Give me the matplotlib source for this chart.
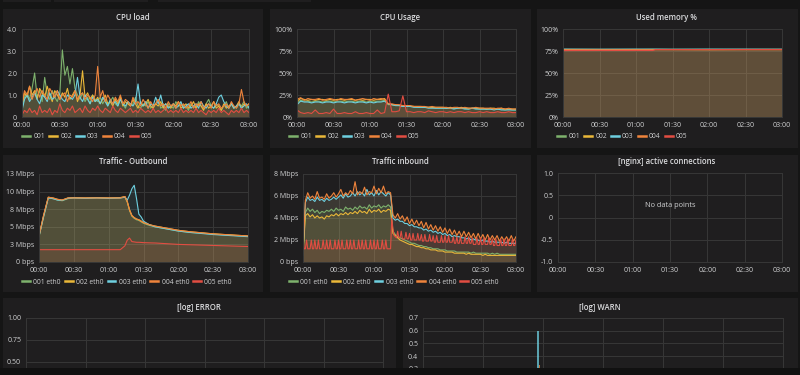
import matplotlib.pyplot as plt
from matplotlib.patches import Rectangle
from matplotlib.lines import Line2D

# ---- data ----
hosts = ['001', '002', '003', '004', '005']
nics = ['001 eth0', '002 eth0', '003 eth0', '004 eth0', '005 eth0']
colors = ['#7EB26D', '#EAB839', '#6ED0E0', '#EF843C', '#E24D42']
time_ticks = [0, 30, 60, 90, 120, 150, 180]
time_labels = ['00:00', '00:30', '01:00', '01:30', '02:00', '02:30', '03:00']

# CPU load, one sample every 2 minutes
load_t = list(range(0, 181, 2))
load_001 = [0.4, 0.9, 1.1, 0.8, 1.3, 2.0, 0.9, 1.2, 0.7, 1.8, 1.0, 0.8, 1.2, 0.9, 0.7, 1.1, 3.05, 1.9, 2.3, 1.5, 2.2, 1.3, 1.0, 0.8, 1.1, 0.7, 0.9, 0.6, 1.0, 0.8,
            0.7, 0.9, 0.6, 0.8, 0.5, 0.7, 0.9, 0.6, 0.5, 0.8, 0.6, 0.4, 0.7, 0.5, 0.6, 0.9, 0.5, 0.4, 0.6, 0.5, 0.7, 0.4, 0.5, 0.6, 0.8, 0.4, 0.5, 0.3, 0.6, 0.5,
            0.4, 0.7, 0.5, 0.6, 0.4, 0.5, 0.3, 0.6, 0.5, 0.4, 0.7, 0.5, 0.4, 0.6, 0.8, 0.5, 0.4, 0.6, 0.5, 0.3, 0.5, 0.7, 0.4, 0.6, 0.5, 0.4, 0.6, 0.5, 0.7, 0.4, 0.5]
load_002 = [0.5, 1.1, 0.9, 1.4, 1.0, 1.2, 0.8, 1.3, 1.1, 0.9, 1.4, 1.0, 0.7, 1.2, 1.0, 0.8, 1.1, 0.9, 1.3, 0.8, 1.0, 1.2, 0.7, 1.0, 2.1, 0.9, 1.1, 0.8, 1.0, 0.7,
            0.9, 0.6, 0.8, 1.0, 0.6, 0.7, 0.5, 0.8, 0.6, 0.9, 0.5, 0.7, 0.6, 0.5, 0.8, 0.6, 0.4, 0.7, 0.5, 0.6, 0.8, 0.5, 0.4, 0.6, 0.5, 0.7, 0.4, 0.6, 0.5, 0.4,
            0.6, 0.5, 0.7, 0.4, 0.5, 0.6, 0.4, 0.5, 0.7, 0.4, 0.6, 0.5, 0.3, 0.6, 0.4, 0.5, 0.7, 0.4, 0.5, 0.3, 0.6, 0.4, 0.5, 0.6, 0.4, 0.5, 0.7, 0.4, 0.6, 0.5, 0.6]
load_003 = [0.3, 0.8, 1.0, 0.7, 0.9, 1.1, 0.8, 0.6, 1.0, 0.9, 0.7, 1.1, 0.8, 0.9, 1.2, 1.0, 0.8, 0.7, 1.0, 0.9, 0.8, 1.0, 1.8, 0.9, 0.7, 1.0, 0.8, 0.6, 0.9, 0.7,
            0.8, 0.6, 0.9, 0.7, 0.5, 0.8, 0.6, 0.7, 0.5, 0.8, 0.6, 0.5, 0.7, 0.6, 0.5, 0.7, 1.5, 0.6, 0.5, 0.7, 0.4, 0.6, 0.5, 0.9, 0.6, 1.0, 0.5, 0.6, 0.4, 0.5,
            0.6, 0.4, 0.5, 0.7, 0.4, 0.5, 0.6, 0.4, 0.5, 0.6, 0.4, 0.7, 0.5, 0.4, 0.6, 0.5, 0.4, 0.6, 0.9, 1.0, 0.7, 0.5, 0.4, 0.6, 0.4, 0.5, 0.6, 0.4, 0.5, 0.6, 0.4]
load_004 = [0.6, 1.2, 1.0, 1.4, 0.8, 1.1, 1.3, 0.9, 1.2, 1.0, 0.8, 1.3, 1.1, 0.9, 1.2, 0.8, 1.0, 1.1, 0.7, 1.0, 0.9, 1.2, 0.8, 1.0, 1.1, 0.8, 1.0, 0.9, 0.7, 1.0,
            2.3, 0.9, 1.2, 0.7, 1.0, 0.8, 0.6, 0.9, 0.7, 1.0, 0.6, 0.8, 0.7, 0.5, 0.9, 0.6, 0.7, 0.5, 0.8, 0.6, 0.4, 0.7, 0.5, 0.6, 0.8, 0.5, 0.6, 0.4, 0.7, 0.5,
            0.6, 0.4, 0.7, 0.5, 0.6, 0.4, 0.5, 0.7, 0.4, 0.6, 0.5, 0.7, 0.4, 0.5, 0.6, 0.4, 0.7, 0.5, 0.6, 0.4, 0.5, 0.6, 0.4, 0.7, 0.5, 0.4, 0.6, 1.25, 0.7, 0.5, 0.6]
load_005 = [0.1, 0.3, 0.2, 0.4, 0.2, 0.3, 0.1, 0.5, 0.2, 0.3, 0.2, 0.4, 0.1, 0.3, 0.2, 0.6, 0.3, 0.2, 0.4, 0.3, 0.5, 0.2, 0.3, 0.4, 0.2, 0.5, 0.3, 0.2, 0.4, 0.3,
            0.5, 0.3, 0.2, 0.4, 0.3, 0.2, 0.5, 0.3, 0.2, 0.4, 0.3, 0.2, 0.3, 0.4, 0.2, 0.3, 0.2, 0.4, 0.3, 0.2, 0.3, 0.2, 0.4, 0.2, 0.3, 0.2, 0.3, 0.4, 0.2, 0.3,
            0.2, 0.3, 0.2, 0.4, 0.2, 0.3, 0.2, 0.3, 0.2, 0.4, 0.2, 0.3, 0.2, 0.1, 0.3, 0.2, 0.3, 0.2, 0.4, 0.2, 0.3, 0.2, 0.1, 0.3, 0.2, 0.3, 0.2, 0.4, 0.2, 0.3, 0.2]
load_yticks = [0, 1, 2, 3, 4]
load_ylabels = ['0', '1.0', '2.0', '3.0', '4.0']

# CPU usage %, every 3 minutes
usage_t = list(range(0, 181, 3))
usage_001 = [16, 19, 18, 18, 17, 18, 18, 17, 18, 18, 17, 18, 18, 17, 18, 18, 17, 18, 18, 17, 18, 17, 18, 18, 19, 14, 14, 13, 13, 12,
             12, 12, 12, 11, 11, 11, 11, 11, 10, 10, 10, 10, 10, 10, 10, 10, 10, 9, 10, 10, 9, 9, 9, 9, 9, 9, 9, 8, 9, 8, 8]
usage_002 = [18, 21, 20, 19, 20, 19, 20, 20, 19, 20, 19, 20, 20, 19, 20, 20, 19, 20, 19, 20, 20, 19, 20, 20, 21, 15, 14, 14, 13, 13,
             13, 12, 12, 12, 12, 11, 11, 11, 11, 11, 11, 10, 11, 10, 10, 11, 10, 10, 10, 10, 10, 10, 9, 10, 10, 9, 10, 9, 9, 9, 9]
usage_003 = [14, 18, 17, 17, 16, 17, 17, 16, 17, 17, 16, 17, 17, 16, 17, 17, 16, 17, 17, 16, 17, 16, 17, 17, 18, 15, 14, 13, 13, 12,
             12, 12, 11, 11, 11, 11, 10, 10, 10, 10, 10, 10, 10, 9, 10, 10, 9, 9, 10, 9, 9, 9, 9, 9, 8, 9, 8, 8, 8, 8, 8]
usage_004 = [20, 22, 19, 21, 20, 20, 21, 19, 20, 21, 20, 19, 21, 20, 20, 21, 19, 20, 21, 20, 19, 21, 20, 21, 20, 15, 15, 14, 14, 13,
             13, 13, 12, 12, 12, 12, 11, 12, 11, 11, 11, 11, 10, 11, 11, 10, 11, 10, 10, 11, 10, 10, 10, 10, 9, 10, 10, 9, 10, 9, 9]
usage_005 = [8, 5, 4, 5, 4, 8, 4, 4, 5, 4, 9, 4, 4, 5, 4, 4, 6, 4, 4, 5, 4, 4, 8, 4, 5, 26, 6, 6, 7, 24,
             6, 6, 5, 6, 6, 5, 7, 6, 5, 6, 6, 5, 6, 5, 6, 6, 5, 6, 5, 5, 6, 5, 6, 5, 5, 6, 5, 5, 6, 5, 5]
pct_yticks = [0, 25, 50, 75, 100]
pct_ylabels = ['0%', '25%', '50%', '75%', '100%']

# used memory %
mem_t = [0, 30, 60, 74, 76, 90, 120, 150, 180]
mem_001 = [76.9, 76.8, 76.9, 76.9, 76.9, 76.8, 76.9, 76.8, 76.9]
mem_002 = [76.7, 76.7, 76.6, 76.7, 76.7, 76.7, 76.6, 76.7, 76.7]
mem_003 = [77.1, 77.0, 77.1, 77.1, 77.1, 77.0, 77.1, 77.1, 77.0]
mem_004 = [76.5, 76.4, 76.5, 76.5, 76.5, 76.5, 76.4, 76.5, 76.5]
mem_005 = [75.5, 75.6, 75.6, 75.6, 76.6, 76.6, 76.6, 76.7, 76.7]

# traffic outbound, Mbps
out_t = [0, 4, 8, 12, 16, 20, 25, 30, 40, 50, 60, 70, 74, 76, 78, 80, 82, 84, 86, 88, 90, 95, 100, 110, 120, 130, 140, 150, 160, 170, 180]
out_001 = [3.6, 6.4, 9.1, 9.0, 8.8, 8.7, 9.0, 9.1, 9.05, 9.1, 9.05, 9.1, 9.2, 8.5, 7.3, 6.5, 6.2, 6.0, 5.9, 5.7, 5.5, 5.2, 5.0, 4.7, 4.4, 4.2, 4.1, 3.95, 3.85, 3.75, 3.65]
out_002 = [3.7, 6.6, 9.2, 9.1, 8.9, 8.8, 9.1, 9.15, 9.1, 9.15, 9.1, 9.15, 9.3, 8.6, 7.4, 6.6, 6.3, 6.1, 6.0, 5.8, 5.6, 5.3, 5.1, 4.8, 4.5, 4.3, 4.15, 4.0, 3.9, 3.8, 3.7]
out_003 = [3.6, 6.5, 9.1, 9.0, 8.8, 8.75, 9.05, 9.1, 9.05, 9.1, 9.05, 9.1, 9.2, 8.8, 9.5, 10.4, 10.9, 9.0, 6.8, 6.4, 5.8, 5.3, 5.0, 4.7, 4.4, 4.2, 4.05, 3.9, 3.8, 3.7, 3.6]
out_004 = [3.7, 6.7, 9.2, 9.1, 8.9, 8.8, 9.1, 9.1, 9.1, 9.1, 9.1, 9.1, 9.3, 8.6, 7.4, 6.6, 6.3, 6.1, 6.0, 5.8, 5.6, 5.3, 5.1, 4.8, 4.5, 4.3, 4.15, 4.0, 3.9, 3.8, 3.7]
out_005 = [1.75, 1.75, 1.75, 1.75, 1.75, 1.75, 1.75, 1.75, 1.75, 1.75, 1.75, 1.75, 2.3, 3.1, 3.4, 2.9, 2.85, 2.8, 2.8, 2.78, 2.75, 2.72, 2.7, 2.6, 2.5, 2.45, 2.4, 2.35, 2.3, 2.25, 2.2]
out_yticks = [0, 2.5, 5, 7.5, 10, 12.5]
out_ylabels = ['0 bps', '3 Mbps', '5 Mbps', '8 Mbps', '10 Mbps', '13 Mbps']

# traffic inbound, Mbps, every 2 minutes (005 every minute)
in_t = list(range(0, 181, 2))
in_001 = [0.7, 4.5, 4.9, 4.6, 4.8, 4.5, 4.7, 4.4, 4.6, 4.5, 4.7, 4.6, 4.8, 4.6, 4.9, 4.7, 4.8, 4.6, 5.0, 4.8, 4.9, 4.7, 5.0, 4.8, 5.1, 4.9, 5.0, 4.8, 5.2, 4.9, 5.1, 5.0, 5.2, 4.9, 5.1, 5.0, 5.2, 5.0,
          2.8, 2.5, 2.3, 2.2, 2.1, 2.0, 1.9, 1.8, 1.7, 1.7, 1.6, 1.5, 1.5, 1.4, 1.4, 1.3, 1.3, 1.2, 1.2, 1.2, 1.1, 1.1, 1.1, 1.0, 1.0, 1.0, 1.0, 0.9, 0.9, 0.9, 0.9, 0.9,
          0.9, 0.8, 0.9, 0.8, 0.8, 0.8, 0.8, 0.8, 0.8, 0.7, 0.8, 0.7, 0.8, 0.7, 0.7, 0.7, 0.7, 0.7, 0.7, 0.7, 0.7]
in_002 = [0.6, 4.2, 4.4, 4.1, 4.3, 4.0, 4.2, 4.0, 4.1, 3.9, 4.2, 4.1, 4.3, 4.2, 4.4, 4.2, 4.4, 4.3, 4.5, 4.3, 4.5, 4.4, 4.6, 4.4, 4.7, 4.5, 4.6, 4.4, 4.8, 4.5, 4.7, 4.6, 4.8, 4.5, 4.7, 4.6, 4.8, 4.7,
          2.6, 2.4, 2.2, 2.0, 1.9, 1.8, 1.7, 1.6, 1.6, 1.5, 1.4, 1.4, 1.3, 1.3, 1.2, 1.2, 1.1, 1.1, 1.1, 1.0, 1.0, 1.0, 0.9, 0.9, 0.9, 0.9, 0.8, 0.8, 0.8, 0.8, 0.8, 0.7,
          0.8, 0.7, 0.7, 0.7, 0.7, 0.7, 0.6, 0.7, 0.6, 0.6, 0.6, 0.6, 0.6, 0.6, 0.6, 0.6, 0.6, 0.6, 0.6, 0.6, 0.6]
in_003 = [0.8, 5.4, 5.9, 5.6, 5.7, 5.5, 5.9, 5.6, 5.7, 5.5, 5.8, 5.6, 5.7, 5.9, 5.7, 5.9, 6.1, 5.8, 6.2, 5.9, 6.0, 6.3, 6.0, 6.4, 6.1, 6.3, 6.0, 6.6, 6.1, 6.3, 6.0, 6.5, 6.1, 6.4, 6.2, 6.0, 6.3, 6.1,
          4.0, 3.8, 3.9, 3.7, 3.7, 3.5, 3.5, 3.3, 3.4, 3.2, 3.2, 3.1, 3.1, 2.9, 3.0, 2.8, 2.9, 2.7, 2.8, 2.6, 2.7, 2.5, 2.6, 2.4, 2.5, 2.3, 2.4, 2.3, 2.3, 2.2, 2.2, 2.1,
          2.2, 2.0, 2.1, 2.0, 2.0, 1.9, 2.0, 1.9, 1.9, 1.8, 1.9, 1.8, 1.8, 1.8, 1.8, 1.7, 1.8, 1.7, 1.7, 1.7, 1.7]
in_004 = [0.8, 5.6, 6.3, 5.8, 6.0, 5.7, 6.4, 5.8, 5.9, 5.7, 6.2, 5.8, 6.0, 6.3, 5.9, 6.2, 6.6, 6.0, 6.3, 6.1, 6.5, 6.2, 7.3, 6.1, 6.4, 6.2, 6.8, 6.1, 6.4, 6.3, 6.9, 6.2, 6.7, 6.3, 6.9, 6.2, 6.4, 6.3,
          4.3, 4.0, 4.4, 3.9, 4.2, 3.7, 4.1, 3.5, 3.9, 3.4, 3.8, 3.3, 3.7, 3.1, 3.6, 3.0, 3.4, 2.9, 3.3, 2.8, 3.2, 2.7, 3.1, 2.6, 3.0, 2.5, 2.9, 2.4, 2.8, 2.3, 2.8, 2.3,
          2.7, 2.2, 2.6, 2.1, 2.6, 2.1, 2.5, 2.0, 2.5, 2.0, 2.4, 2.0, 2.4, 1.9, 2.3, 1.9, 2.3, 1.9, 2.4, 1.9, 2.3]
in5_t = list(range(0, 181))
in_005 = [2.0, 1.2, 1.2, 2.0, 1.2, 1.2, 1.2, 2.0, 1.2, 1.2,
          2.0, 1.2, 1.2, 2.0, 1.2, 1.2, 1.2, 2.0, 1.2, 1.2,
          2.0, 1.2, 1.2, 2.0, 1.2, 1.2, 1.2, 2.0, 1.2, 1.2,
          2.0, 1.2, 1.2, 2.0, 1.2, 1.2, 1.2, 2.0, 1.2, 1.2,
          2.0, 1.2, 1.2, 2.0, 1.2, 1.2, 1.2, 2.0, 1.2, 1.2,
          2.0, 1.2, 1.2, 2.0, 1.2, 1.2, 1.2, 2.0, 1.2, 1.2,
          2.0, 1.2, 1.2, 2.0, 1.2, 1.2, 1.2, 2.0, 1.2, 1.2,
          2.0, 1.2, 1.2, 1.2, 1.2, 4.0, 3.0, 2.4, 2.3, 2.2,
          2.8, 2.2, 2.2, 2.8, 2.1, 2.1, 2.1, 2.7, 2.1, 2.1,
          2.6, 2.0, 2.0, 2.6, 2.0, 2.0, 2.0, 2.6, 2.0, 2.0,
          2.5, 1.9, 1.9, 2.5, 1.9, 1.9, 1.9, 2.5, 1.9, 1.9,
          2.4, 1.8, 1.8, 2.4, 1.8, 1.8, 1.8, 2.4, 1.8, 1.8,
          2.4, 1.8, 1.8, 2.4, 1.8, 1.8, 1.8, 2.3, 1.7, 1.7,
          2.3, 1.7, 1.7, 2.3, 1.7, 1.7, 1.7, 2.3, 1.7, 1.7,
          2.3, 1.7, 1.7, 2.2, 1.6, 1.6, 1.6, 2.2, 1.6, 1.6,
          2.2, 1.6, 1.6, 2.2, 1.6, 1.6, 1.6, 2.2, 1.6, 1.6,
          2.1, 1.5, 1.5, 2.1, 1.5, 1.5, 1.5, 2.1, 1.5, 1.5,
          2.1, 1.5, 1.5, 2.1, 1.5, 1.5, 1.5, 2.1, 1.5, 1.5,
          2.0]
in_yticks = [0, 2, 4, 6, 8]
in_ylabels = ['0 bps', '2 Mbps', '4 Mbps', '6 Mbps', '8 Mbps']

nginx_yticks = [-1, -0.5, 0, 0.5, 1]
nginx_ylabels = ['-1.0', '-0.5', '0', '0.5', '1.0']

# only the upper part of the last row is on screen
error_yticks = [0.5, 0.75, 1]
error_ylabels = ['0.50', '0.75', '1.00']

warn_t = [57.5]
warn_003 = [0.6]
warn_004 = [0.33]
warn_yticks = [0.3, 0.4, 0.5, 0.6, 0.7]
warn_ylabels = ['0.3', '0.4', '0.5', '0.6', '0.7']

# ---- drawing ----
W, H = 800, 375
BODY = '#151515'
PANEL = '#1f1e1f'
GRID = '#373737'
TEXT = '#d0d1d2'
TITLE = '#dcdddf'

plt.rcParams['font.family'] = ['Open Sans', 'DejaVu Sans']

fig = plt.figure(figsize=(8, 3.75), dpi=100)
fig.patch.set_facecolor(BODY)


def rect(x0, y0, x1, y1):
    return [x0 / W, 1 - y1 / H, (x1 - x0) / W, (y1 - y0) / H]


def panel(x0, y0, x1, y1, color=PANEL, z=-5):
    r = rect(x0, y0, x1, y1)
    fig.add_artist(Rectangle((r[0], r[1]), r[2], r[3], transform=fig.transFigure,
                             facecolor=color, edgecolor='none', zorder=z))


def graph(box, ylim, yticks, ylabels, title, title_xy, xlabels=True):
    ax = fig.add_axes(rect(*box))
    ax.patch.set_visible(False)
    ax.set_xlim(0, 180)
    ax.set_ylim(*ylim)
    ax.set_xticks(time_ticks)
    ax.set_xticklabels(time_labels)
    ax.set_yticks(yticks)
    ax.set_yticklabels(ylabels)
    ax.tick_params(length=0, labelsize=5.0, colors=TEXT, pad=3.5, labelbottom=xlabels)
    ax.grid(True, color=GRID, lw=0.7)
    ax.set_axisbelow(True)
    for s in ax.spines.values():
        s.set_color(GRID)
        s.set_linewidth(0.7)
    fig.text(title_xy[0] / W, 1 - title_xy[1] / H, title, ha='center', va='center',
             fontsize=5.6, color=TITLE, fontweight='semibold')
    return ax


def series(ax, t, vals, c):
    ax.fill_between(t, vals, 0, color=c, alpha=0.1, lw=0)
    ax.plot(t, vals, color=c, lw=0.8)


def legend(ax, labels, x, y):
    handles = [Line2D([], [], color=c, lw=1.8) for c in colors]
    ax.legend(handles, labels, loc='center left', bbox_to_anchor=(x / W, 1 - y / H),
              bbox_transform=fig.transFigure, ncol=5, frameon=False, fontsize=4.9,
              labelcolor=TEXT, handlelength=1.15, handletextpad=0.5, columnspacing=0.6,
              borderpad=0, borderaxespad=0)


# panel backgrounds
panel(3, 0, 51, 1.5)
panel(54, 0, 148, 1.5)
panel(158, 0, 311, 1.5)
panel(3, 9, 263, 148)
panel(270, 9, 531, 148)
panel(537, 9, 798, 148)
panel(3, 155, 263, 292)
panel(270, 155, 531, 292)
panel(537, 155, 798, 292)
panel(3, 298, 396, 375)
panel(403, 298, 798, 375)

ax1 = graph((22, 29, 249, 117), (0, 4), load_yticks, load_ylabels, 'CPU load', (133, 17))
for v, c in zip([load_001, load_002, load_003, load_004, load_005], colors):
    series(ax1, load_t, v, c)
legend(ax1, hosts, 22, 137)

ax2 = graph((297, 29, 516, 117), (0, 100), pct_yticks, pct_ylabels, 'CPU Usage', (400, 17))
for v, c in zip([usage_001, usage_002, usage_003, usage_004, usage_005], colors):
    series(ax2, usage_t, v, c)
legend(ax2, hosts, 289, 137)

ax3 = graph((563, 29, 782, 117), (0, 100), pct_yticks, pct_ylabels, 'Used memory %', (667, 17))
for v, c in zip([mem_001, mem_002, mem_003, mem_004, mem_005], colors):
    series(ax3, mem_t, v, c)
legend(ax3, hosts, 557, 137)

ax4 = graph((39, 174, 248, 262), (0, 12.5), out_yticks, out_ylabels, 'Traffic - Outbound', (133, 162))
for v, c in zip([out_001, out_002, out_003, out_004, out_005], colors):
    series(ax4, out_t, v, c)
legend(ax4, nics, 22, 282)

ax5 = graph((303, 174, 516, 262), (0, 8), in_yticks, in_ylabels, 'Traffic inbound', (400, 162))
for v, c in zip([in_001, in_002, in_003, in_004], colors[:4]):
    series(ax5, in_t, v, c)
series(ax5, in5_t, in_005, colors[4])
legend(ax5, nics, 289, 282)

ax6 = graph((558, 173, 782, 262), (-1, 1), nginx_yticks, nginx_ylabels, '[nginx] active connections', (667, 162))
ax6.text(0.5, 0.64, 'No data points', transform=ax6.transAxes, ha='center', va='center',
         fontsize=5.3, color=TEXT)

ax7 = graph((26, 318, 383, 406), (0, 1), error_yticks, error_ylabels, '[log] ERROR', (199, 307), xlabels=False)

ax8 = graph((423, 318, 783, 407), (0, 0.7), warn_yticks, warn_ylabels, '[log] WARN', (600, 307), xlabels=False)
ax8.bar(warn_t, warn_003, width=0.9, color=colors[2], alpha=0.75)
ax8.bar([w + 0.6 for w in warn_t], warn_004, width=0.6, color=colors[3], alpha=0.75)

# bottom strip of the screen, on top of everything
panel(0, 368, 800, 376, color='#111111', z=10)

fig.savefig('out.png', dpi=100, facecolor=fig.get_facecolor())
